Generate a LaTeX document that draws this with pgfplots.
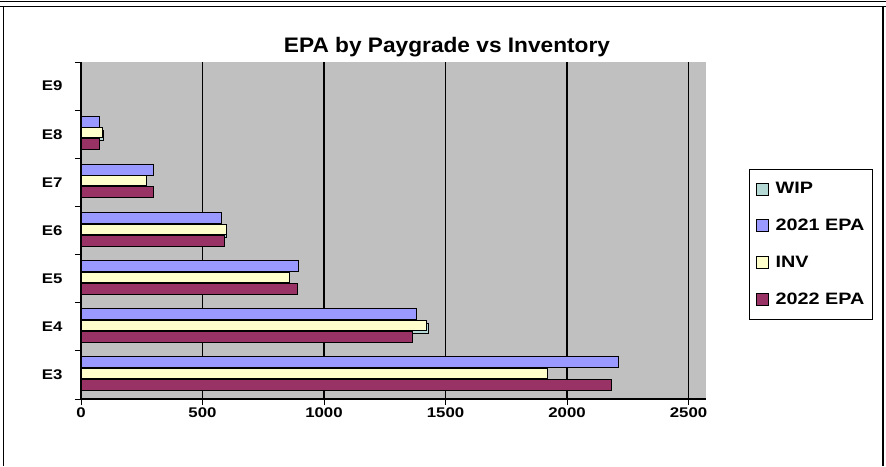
\documentclass[border=0pt]{standalone}
\usepackage{pgfplots}
\pgfplotsset{compat=1.18}
\usepackage{fontspec}
\setmainfont{Liberation Sans}
\newfontfamily\stretchfont[FakeStretch=1.2]{Liberation Sans}
\newfontfamily\titlefont[FakeStretch=1.08]{Liberation Sans}
\definecolor{bggrey}{RGB}{192,192,192}
\definecolor{wipc}{RGB}{180,216,212}
\definecolor{epaA}{RGB}{153,153,255}
\definecolor{invc}{RGB}{255,255,204}
\definecolor{epaB}{RGB}{153,51,102}
\begin{document}
\begin{tikzpicture}[x=1pt,y=1pt]
\useasboundingbox (0,0) rectangle (886,-466);
\fill[white] (0,0) rectangle (886,-466);
\draw[line width=1pt] (0,-1.5) -- (886,-1.5);
\draw[line width=1pt] (0,-6.5) -- (886,-6.5);
\draw[line width=1.2pt] (3.5,-6.5) -- (3.5,-466);
\draw[line width=1.2pt] (883,-6.5) -- (883,-466);
\begin{axis}[
  at={(81pt,-399pt)}, anchor=south west,
  width=625pt, height=337pt, scale only axis,
  xmin=0, xmax=2572, ymin=-0.5, ymax=6.5,
  axis background/.style={fill=bggrey},
  axis x line*=bottom, axis y line*=left,
  axis line style={line width=1.4pt,-},
  xtick={0,500,1000,1500,2000,2500},
  xticklabels={0,500,1000,1500,2000,2500},
  xmajorgrids, grid style={black,line width=1.5pt},
  tick align=outside, major tick length=6pt,
  tick style={black,line width=1pt},
  ytick={-0.5,0.5,1.5,2.5,3.5,4.5,5.5,6.5},
  yticklabels={},
  extra y ticks={0,1,2,3,4,5,6},
  extra y tick labels={E3,E4,E5,E6,E7,E8,E9},
  extra y tick style={major tick length=0pt, grid=none,
     yticklabel style={xshift=-15pt}},
  ticklabel style={font=\stretchfont\bfseries\fontsize{14}{16}\selectfont},
  xticklabel style={yshift=1pt},
  title={EPA by Paygrade vs Inventory},
  title style={at={(axis description cs:0.5856,1.026)}, anchor=center,
     font=\titlefont\bfseries\fontsize{21}{23}\selectfont},
  legend style={at={(axis description cs:1.0688,0.6825)}, anchor=north west,
     draw=black, line width=1.2pt, inner xsep=6pt, inner ysep=11pt,
     row sep=20pt, font=\stretchfont\bfseries\fontsize{16.5}{18}\selectfont,
     /tikz/every odd column/.append style={column sep=5pt}},
  legend cell align=left,
  legend image code/.code={\draw[#1,/tikz/.cd,line width=1pt] (0pt,-6pt) rectangle (12pt,6pt);},
]
\addplot[xbar, bar width=10pt, bar shift=-1.5pt, fill=wipc, draw=black, line width=1pt]
  coordinates {(1918,0) (1428,1) (858,2) (600,3) (271,4) (92,5)};
\addplot[xbar, bar width=11pt, bar shift=12.5pt, fill=epaA, draw=black, line width=1pt]
  coordinates {(2212,0) (1381,1) (893,2) (580,3) (298,4) (75,5)};
\addplot[xbar, bar width=10pt, bar shift=1.5pt, fill=invc, draw=black, line width=1pt]
  coordinates {(1918,0) (1422,1) (858,2) (600,3) (271,4) (88,5)};
\addplot[xbar, bar width=11pt, bar shift=-10pt, fill=epaB, draw=black, line width=1pt]
  coordinates {(2183,0) (1365,1) (889,2) (592,3) (298,4) (75,5)};
\legend{WIP,2021 EPA,INV,2022 EPA}
\end{axis}
\end{tikzpicture}
\end{document}
